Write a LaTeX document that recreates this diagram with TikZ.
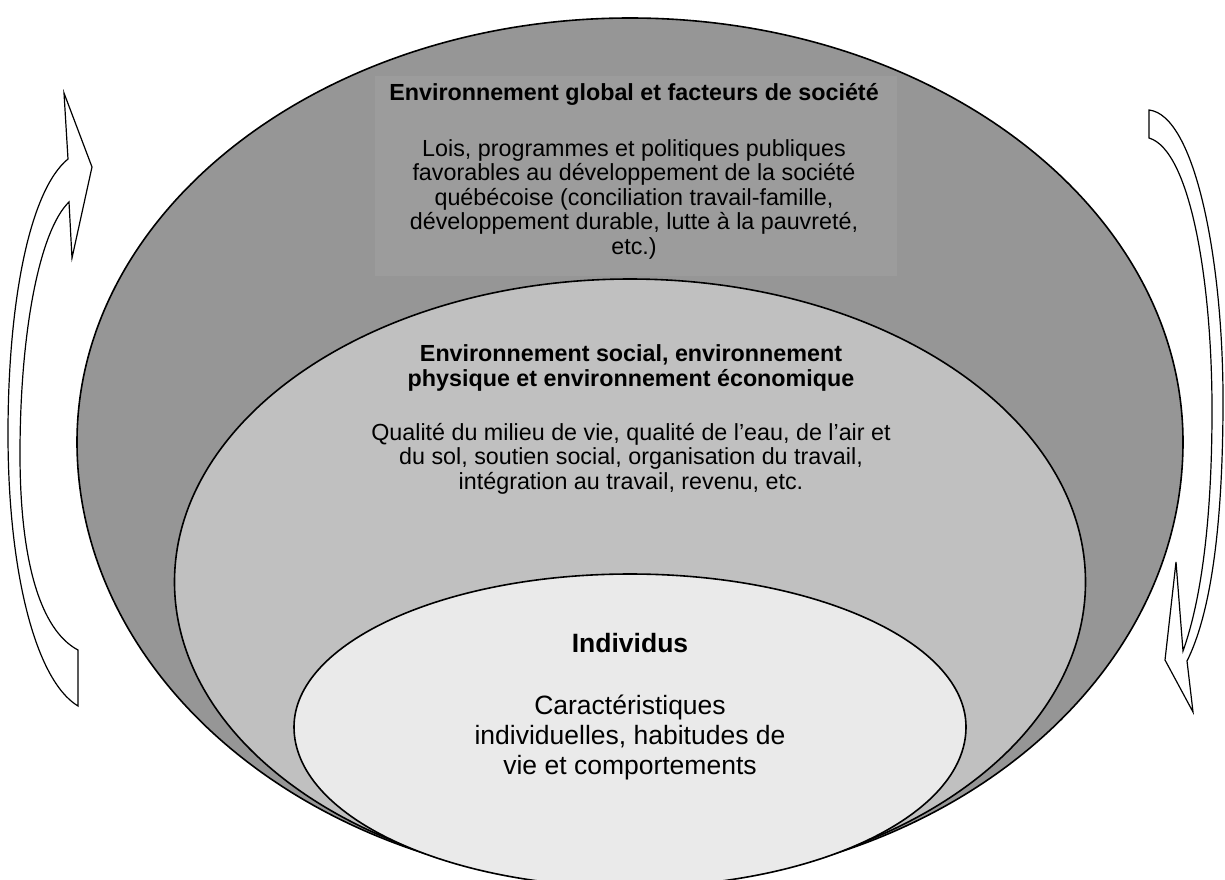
\documentclass[tikz,border=0pt]{standalone}
\usepackage{fontspec}
\setmainfont{Liberation Sans}
\definecolor{outerfill}{RGB}{150,150,150}
\definecolor{boxfill}{RGB}{156,156,156}
\definecolor{midfill}{RGB}{192,192,192}
\definecolor{innerfill}{RGB}{234,234,234}
\tikzset{
  layer/.style={draw=black, line width=1.6pt},
  bandarrow/.style={draw=black, fill=white, line width=1.2pt, line join=miter},
  txt/.style={anchor=base, inner sep=0pt, font=\fontsize{23.3}{26}\selectfont},
  txtb/.style={txt, font=\fontsize{23.3}{26}\selectfont\bfseries},
  itxt/.style={anchor=base, inner sep=0pt, font=\fontsize{26.5}{30}\selectfont},
  itxtb/.style={itxt, font=\fontsize{26.5}{30}\selectfont\bfseries}
}
\begin{document}
\begin{tikzpicture}[x=1pt,y=-1pt]
\useasboundingbox (0,0) rectangle (1225,879);
\fill[white] (0,0) rectangle (1225,879);
\begin{scope}
\clip (0,0) rectangle (1225,879);
% outer shape
\draw[layer, fill=outerfill] (77,442) .. controls (77,207.8) and (324.6,18) .. (630,18)
  .. controls (935.4,18) and (1183,207.8) .. (1183,442)
  .. controls (1183,686.7) and (935.4,885) .. (630,885)
  .. controls (324.6,885) and (77,686.7) .. cycle;
% text box
\fill[boxfill] (375,76) rectangle (897,276);
% middle shape
\draw[layer, fill=midfill] (174.5,582) .. controls (174.5,414.7) and (378.4,279) .. (630,279)
  .. controls (881.6,279) and (1085.5,414.7) .. (1085.5,582)
  .. controls (1085.5,749.3) and (881.6,885) .. (630,885)
  .. controls (378.4,885) and (174.5,749.3) .. cycle;
% inner shape
\draw[layer, fill=innerfill] (294,727) .. controls (294,642.5) and (444.4,574) .. (630,574)
  .. controls (815.6,574) and (966,642.5) .. (966,727)
  .. controls (966,815.4) and (815.6,887) .. (630,887)
  .. controls (444.4,887) and (294,815.4) .. cycle;
\end{scope}

% left curved arrow
\draw[bandarrow] (78,706) .. controls (35,680) and (8,570) .. (8,434)
  .. controls (8,300) and (30,190) .. (68,159)
  -- (64,93) -- (92,167) -- (72,258) -- (69,202)
  .. controls (40,230) and (20,330) .. (20,454)
  .. controls (20,560) and (40,630) .. (78,650) -- cycle;

% right curved arrow
\draw[bandarrow] (1149,110) .. controls (1195,115) and (1223,260) .. (1223,400)
  .. controls (1223,530) and (1210,615) .. (1187,661)
  -- (1193,712) -- (1165,660) -- (1176,562) -- (1183,651)
  .. controls (1203,595) and (1212,510) .. (1212,410)
  .. controls (1212,280) and (1190,150) .. (1149,138) -- cycle;

% outer text
\node[txtb] (t1) at (634,100) {Environnement global et facteurs de société};
\node[txt] (t2) at (634,156) {Lois, programmes et politiques publiques};
\node[txt] (t3) at (634,180) {favorables au développement de la société};
\node[txt] (t4) at (634,205) {québécoise (conciliation travail-famille,};
\node[txt] (t5) at (634,229) {développement durable, lutte à la pauvreté,};
\node[txt] (t6) at (634,254) {etc.)};

% middle text
\node[txtb] (m1) at (631,361) {Environnement social, environnement};
\node[txtb] (m2) at (631,386) {physique et environnement économique};
\node[txt] (m3) at (631,440) {Qualité du milieu de vie, qualité de l’eau, de l’air et};
\node[txt] (m4) at (631,464) {du sol, soutien social, organisation du travail,};
\node[txt] (m5) at (631,489) {intégration au travail, revenu, etc.};

% inner text
\node[itxtb] (i1) at (630,652) {Individus};
\node[itxt] (i2) at (630,714) {Caractéristiques};
\node[itxt] (i3) at (630,744) {individuelles, habitudes de};
\node[itxt] (i4) at (630,774) {vie et comportements};
\end{tikzpicture}
\end{document}
